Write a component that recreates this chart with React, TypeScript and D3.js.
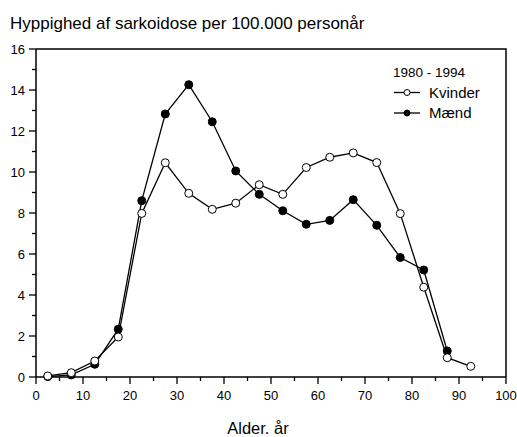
import * as d3 from 'd3';
import React, { useRef, useEffect } from 'react';

const ages = [2.5, 7.5, 12.5, 17.5, 22.5, 27.5, 32.5, 37.5, 42.5, 47.5, 52.5, 57.5, 62.5, 67.5, 72.5, 77.5, 82.5, 87.5, 92.5];
const kvinder = [0.05, 0.21, 0.78, 1.95, 7.98, 10.45, 8.96, 8.18, 8.48, 9.38, 8.91, 10.22, 10.72, 10.93, 10.46, 7.97, 4.38, 0.94, 0.52];
const maend = [0.02, 0.1, 0.62, 2.33, 8.6, 12.83, 14.26, 12.45, 10.05, 8.91, 8.11, 7.45, 7.64, 8.65, 7.4, 5.83, 5.22, 1.27];
const xTicks = [0, 10, 20, 30, 40, 50, 60, 70, 80, 90, 100];
const yTicks = [0, 2, 4, 6, 8, 10, 12, 14, 16];
const title = 'Hyppighed af sarkoidose per 100.000 personår';
const xLabel = 'Alder. år';
const legendTitle = '1980 - 1994';
const seriesNames = ['Kvinder', 'Mænd'];

function App() {
    const ref = useRef<SVGSVGElement>(null);

    useEffect(() => {
        const width = 517, height = 437;
        const margin = { top: 49, right: 11, bottom: 60, left: 36 };
        const svg = d3.select(ref.current);
        svg.selectAll('*').remove();
        svg.attr('width', width).attr('height', height)
            .style('font-family', '"Liberation Sans", Arial, sans-serif');

        const x = d3.scaleLinear().domain([0, 100]).range([margin.left, width - margin.right]);
        const y = d3.scaleLinear().domain([0, 16]).range([height - margin.bottom, margin.top]);

        // frame top + right
        svg.append('path')
            .attr('d', `M${x(0)},${y(16)}H${x(100)}V${y(0)}`)
            .attr('fill', 'none').attr('stroke', '#000').attr('stroke-width', 1.5);

        // x axis
        const xa = svg.append('g').attr('transform', `translate(0,${y(0)})`);
        xa.append('line').attr('x1', x(0)).attr('x2', x(100)).attr('stroke', '#000').attr('stroke-width', 1.5);
        d3.range(0, 101, 5).forEach(v => {
            xa.append('line').attr('x1', x(v)).attr('x2', x(v)).attr('y1', 0)
                .attr('y2', v % 10 === 0 ? 7 : 4).attr('stroke', '#000').attr('stroke-width', 1.3);
        });
        xa.selectAll('text.tl').data(xTicks).enter().append('text')
            .attr('x', d => x(d)).attr('y', 23).attr('text-anchor', 'middle')
            .attr('font-size', 13).text(d => d);

        // y axis
        const ya = svg.append('g').attr('transform', `translate(${x(0)},0)`);
        ya.append('line').attr('y1', y(0)).attr('y2', y(16)).attr('stroke', '#000').attr('stroke-width', 1.5);
        d3.range(0, 17, 1).forEach(v => {
            ya.append('line').attr('y1', y(v)).attr('y2', y(v)).attr('x1', 0)
                .attr('x2', v % 2 === 0 ? -7 : -4).attr('stroke', '#000').attr('stroke-width', 1.3);
        });
        ya.selectAll('text.tl').data(yTicks).enter().append('text')
            .attr('x', -11).attr('y', d => y(d)).attr('dy', '0.35em').attr('text-anchor', 'end')
            .attr('font-size', 13).text(d => d);

        const line = d3.line<number>().x((d, i) => x(ages[i])).y(d => y(d));

        const drawSeries = (vals: number[], fill: string) => {
            svg.append('path').datum(vals).attr('d', line)
                .attr('fill', 'none').attr('stroke', '#000').attr('stroke-width', 1.3);
            svg.append('g').selectAll('circle').data(vals).enter().append('circle')
                .attr('cx', (d, i) => x(ages[i])).attr('cy', d => y(d)).attr('r', 4)
                .attr('fill', fill).attr('stroke', '#000').attr('stroke-width', 1);
        };
        drawSeries(maend, '#000');
        drawSeries(kvinder, '#fff');

        // title and label
        svg.append('text').attr('x', 10).attr('y', 29).attr('font-size', 17).text(title);
        svg.append('text').attr('x', (x(0) + x(100)) / 2 - 13).attr('y', 434).attr('text-anchor', 'middle')
            .attr('font-size', 16.5).text(xLabel);

        // legend
        const lg = svg.append('g');
        lg.append('text').attr('x', 393).attr('y', 77).attr('font-size', 13.5).text(legendTitle);
        [{ name: seriesNames[0], fill: '#fff', cy: 92.5 }, { name: seriesNames[1], fill: '#000', cy: 113 }].forEach(s => {
            lg.append('line').attr('x1', 394).attr('x2', 420).attr('y1', s.cy).attr('y2', s.cy)
                .attr('stroke', '#000').attr('stroke-width', 1.3);
            lg.append('circle').attr('cx', 407).attr('cy', s.cy).attr('r', 3)
                .attr('fill', s.fill).attr('stroke', '#000');
            lg.append('text').attr('x', 429).attr('y', s.cy).attr('dy', '0.35em')
                .attr('font-size', 15).text(s.name);
        });
    }, []);

    return <svg ref={ref} style={{ position: 'absolute', left: 0, top: 0 }}></svg>;
}

export default App;
